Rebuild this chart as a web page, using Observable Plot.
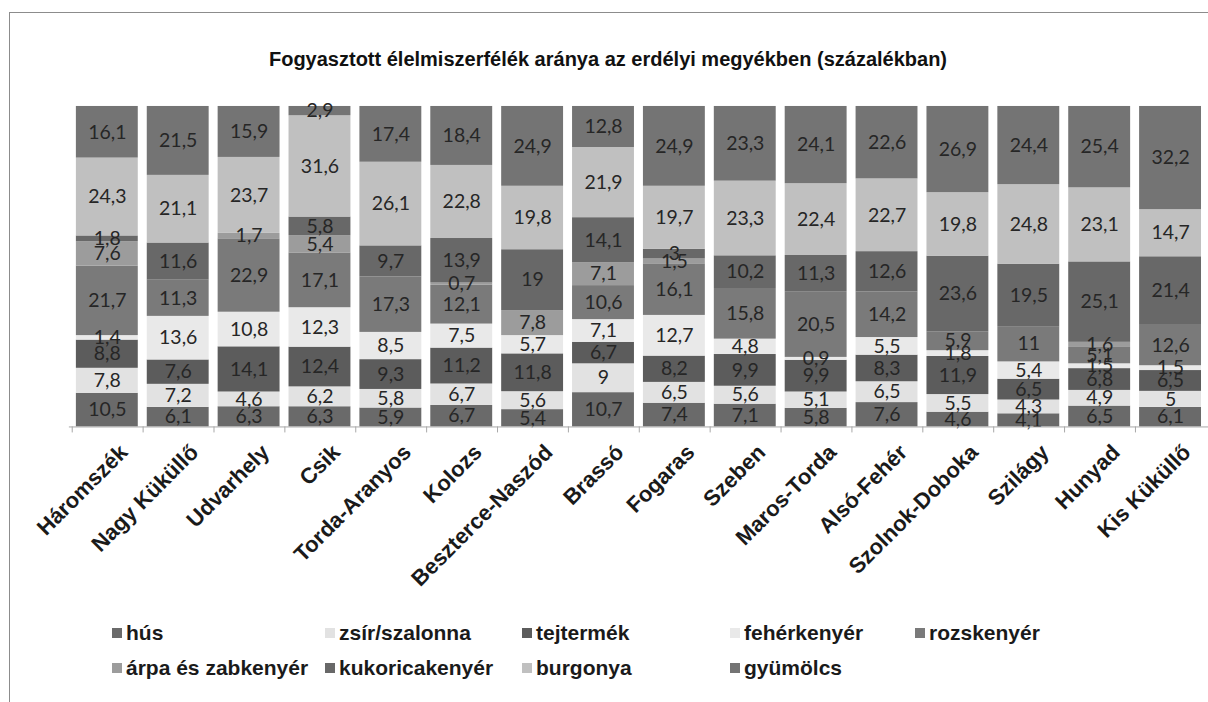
<!DOCTYPE html>
<html><head><meta charset="utf-8">
<script src="https://cdn.jsdelivr.net/npm/d3@7"></script>
<script src="https://cdn.jsdelivr.net/npm/@observablehq/plot@0.6"></script>
<style>
html,body{margin:0;padding:0;width:1208px;height:702px;overflow:hidden;background:#fff;font-family:"Liberation Sans",Arial,sans-serif;}
#frame{position:absolute;left:9px;top:12px;width:1300px;height:800px;border-left:1px solid #8c8c8c;border-top:1px solid #8c8c8c;}
#title{position:absolute;left:0;width:1216px;top:48px;text-align:center;font-weight:bold;font-size:20px;color:#111;}
#chart{position:absolute;left:0;top:90px;}
#legend{position:absolute;left:112px;top:619px;display:grid;grid-template-columns:213px 197px 208px 185px 200px;grid-auto-rows:35px;}
.li{font-weight:bold;font-size:21px;color:#1a1a1a;white-space:nowrap;line-height:28px;}
.sw{display:inline-block;width:10px;height:10px;margin-right:4px;vertical-align:2px;}
</style></head><body>
<div id="frame"></div>
<div id="title">Fogyasztott élelmiszerfélék aránya az erdélyi megyékben (százalékban)</div>
<div id="chart"></div>
<div id="legend"></div>
<script>
const counties = ["Háromszék","Nagy Küküllő","Udvarhely","Csik","Torda-Aranyos","Kolozs","Beszterce-Naszód","Brassó","Fogaras","Szeben","Maros-Torda","Alsó-Fehér","Szolnok-Doboka","Szilágy","Hunyad","Kis Küküllő"];
const foods = ["hús","zsír/szalonna","tejtermék","fehérkenyér","rozskenyér","árpa és zabkenyér","kukoricakenyér","burgonya","gyümölcs"];
const hus      = [10.5,6.1,6.3,6.3,5.9,6.7,5.4,10.7,7.4,7.1,5.8,7.6,4.6,4.1,6.5,6.1];
const zsir     = [7.8,7.2,4.6,6.2,5.8,6.7,5.6,9,6.5,5.6,5.1,6.5,5.5,4.3,4.9,5];
const tej      = [8.8,7.6,14.1,12.4,9.3,11.2,11.8,6.7,8.2,9.9,9.9,8.3,11.9,6.5,6.8,6.5];
const feher    = [1.4,13.6,10.8,12.3,8.5,7.5,5.7,7.1,12.7,4.8,0.9,5.5,1.8,5.4,1.5,1.5];
const rozs     = [21.7,11.3,22.9,17.1,17.3,12.1,0,10.6,16.1,15.8,20.5,14.2,5.9,11,5.1,12.6];
const arpa     = [7.6,0,1.7,5.4,0,0.7,7.8,7.1,1.5,0,0,0,0,0,1.6,0];
const kukorica = [1.8,11.6,0,5.8,9.7,13.9,19,14.1,3,10.2,11.3,12.6,23.6,19.5,25.1,21.4];
const burgonya = [24.3,21.1,23.7,31.6,26.1,22.8,19.8,21.9,19.7,23.3,22.4,22.7,19.8,24.8,23.1,14.7];
const gyumolcs = [16.1,21.5,15.9,2.9,17.4,18.4,24.9,12.8,24.9,23.3,24.1,22.6,26.9,24.4,25.4,32.2];
const colors = ["#6a6a6a","#e2e2e2","#5c5c5c","#e9e9e9","#7a7a7a","#9c9c9c","#686868","#c0c0c0","#747474"];

const series = [hus,zsir,tej,feher,rozs,arpa,kukorica,burgonya,gyumolcs];
const data = [];
counties.forEach((c,i)=>foods.forEach((f,j)=>data.push({county:c, food:f, value:series[j][i]})));
const fmt = v => String(v).replace(".", ",");

const W = 1210, H = 480, ML = 69, MR = 0, MT = 16, MB = 143;
const step = (W - ML - MR) / counties.length;

const chart = Plot.plot({
  width: W, height: H, marginLeft: ML, marginRight: MR, marginTop: MT, marginBottom: MB,
  style: {background: "transparent", overflow: "visible"},
  x: {domain: counties, padding: 0, label: null},
  y: {domain: [0, 100], axis: null},
  color: {domain: foods, range: colors},
  marks: [
    Plot.barY(data, Plot.stackY({x: "county", y: "value", fill: "food", insetLeft: 4, insetRight: 5})),
    Plot.text(data.filter(d => d.value > 0), Plot.stackY({x: "county", y: "value", z: "food", text: d => fmt(d.value), fill: "#262626", fontSize: 19.5, fontFamily: "Lato", dx: -0.5})),
    Plot.ruleY([0], {stroke: "#a8a8a8"}),
    Plot.axisX({tickSize: 6, tickFormat: () => "", dx: -step / 2, stroke: "#a8a8a8"}),
    Plot.axisX({tickSize: 0, tickRotate: -45, textAnchor: "end", fontWeight: "bold", fontSize: 22, fontFamily: "Liberation Sans", fill: "#1a1a1a", dx: 16, dy: 10, label: null})
  ]
});
document.getElementById("chart").appendChild(chart);

const lg = document.getElementById("legend");
foods.forEach((f, j) => {
  const el = document.createElement("div");
  el.className = "li";
  el.innerHTML = `<span class="sw" style="background:${colors[j]}"></span>${f}`;
  lg.appendChild(el);
});
</script>
</body></html>
